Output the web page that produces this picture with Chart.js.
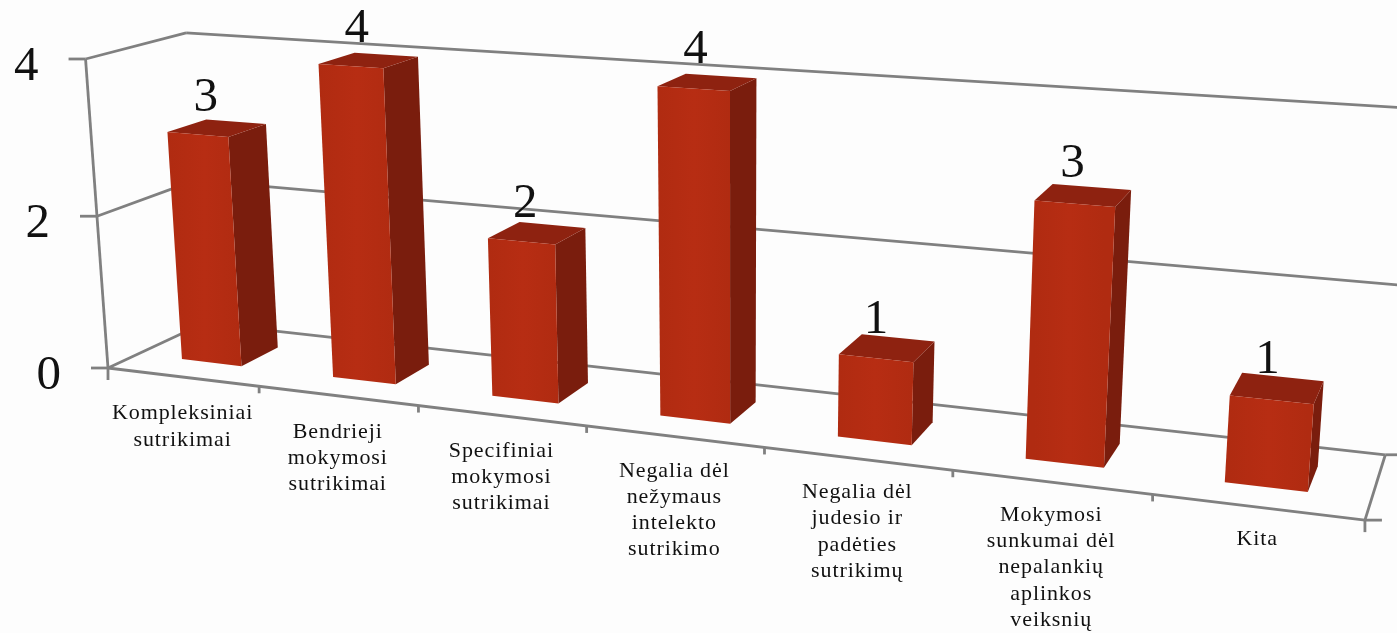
<!DOCTYPE html>
<html lang="lt">
<head>
<meta charset="utf-8">
<title>Sutrikimai</title>
<script src="https://cdn.jsdelivr.net/npm/chart.js@4/dist/chart.umd.min.js"></script>
<style>
    html, body { margin: 0; padding: 0; background: #fdfdfd; overflow: hidden; }
    canvas { display: block; }
</style>
</head>
<body>
<canvas id="barChart" width="1397" height="633"></canvas>
<script>
const categories = [
    ['Kompleksiniai', 'sutrikimai'],
    ['Bendrieji', 'mokymosi', 'sutrikimai'],
    ['Specifiniai', 'mokymosi', 'sutrikimai'],
    ['Negalia dėl', 'nežymaus', 'intelekto', 'sutrikimo'],
    ['Negalia dėl', 'judesio ir', 'padėties', 'sutrikimų'],
    ['Mokymosi', 'sunkumai dėl', 'nepalankių', 'aplinkos', 'veiksnių'],
    ['Kita']
];
const values = [3, 4, 2, 4, 1, 3, 1];
const yTicks = [0, 2, 4];

const LINE_COLOR = '#808080';
const LABEL_FONT = '"Liberation Serif", serif';

// Perspective camera: vanishing points of the three box directions, each with its weight
const VP_X = [-5618, -325], WEIGHT_X = -0.18;
const VP_Y = [735, 9000], WEIGHT_Y = -0.03456;
const VP_Z = [1635, -345], WEIGHT_Z = 0.067;
const ORIGIN = [108, 368];

// u along the categories, v up the value axis, d into the depth, all 0..1
function project(u, v, d) {
    const w = 1 + WEIGHT_X * u + WEIGHT_Y * v + WEIGHT_Z * d;
    const x = ORIGIN[0] + WEIGHT_X * u * VP_X[0] + WEIGHT_Y * v * VP_Y[0] + WEIGHT_Z * d * VP_Z[0];
    const y = ORIGIN[1] + WEIGHT_X * u * VP_X[1] + WEIGHT_Y * v * VP_Y[1] + WEIGHT_Z * d * VP_Z[1];
    return [x / w, y / w];
}

function line(ctx, a, b) {
    ctx.beginPath();
    ctx.moveTo(a[0], a[1]);
    ctx.lineTo(b[0], b[1]);
    ctx.stroke();
}

function face(ctx, points, fill) {
    ctx.beginPath();
    points.forEach((p, i) => i ? ctx.lineTo(p[0], p[1]) : ctx.moveTo(p[0], p[1]));
    ctx.closePath();
    ctx.fillStyle = fill;
    ctx.fill();
}

// Chart.js pixels to 0..1 box coordinates
function toU(chart, px) {
    return (px - chart.chartArea.left) / chart.chartArea.width;
}
function toV(chart, py) {
    return (chart.chartArea.bottom - py) / chart.chartArea.height;
}

const box3d = {
    id: 'box3d',
    beforeDatasetsDraw(chart) {
        const ctx = chart.ctx;
        const yScale = chart.scales.y;
        ctx.save();
        ctx.strokeStyle = LINE_COLOR;
        ctx.lineWidth = 2.8;

        // walls: one line per tick on the left side and on the back
        yTicks.forEach(tick => {
            const v = toV(chart, yScale.getPixelForValue(tick));
            line(ctx, project(0, v, 0), project(0, v, 1));
            line(ctx, project(0, v, 1), project(1, v, 1));
            const start = project(0, v, 0);
            line(ctx, [start[0] - 17, start[1]], start);
        });
        line(ctx, project(0, 0, 0), project(0, 1, 0));

        // floor
        line(ctx, project(0, 0, 0), project(1, 0, 0));
        line(ctx, project(1, 0, 0), project(1, 0, 1));
        const corner = project(1, 0, 1);
        line(ctx, corner, [chart.width, corner[1]]);
        const end = project(1, 0, 0);
        line(ctx, end, [end[0] + 17, end[1]]);

        // category ticks under the floor edge
        for (let i = 0; i <= categories.length; i++) {
            const p = project(i / categories.length, 0, 0);
            line(ctx, p, [p[0], p[1] + (i === 0 || i === categories.length ? 12 : 7)]);
        }
        ctx.restore();
    },
    beforeDatasetDraw(chart, args) {
        const ctx = chart.ctx;
        const meta = chart.getDatasetMeta(args.index);
        meta.data.forEach(bar => {
            const u0 = toU(chart, bar.x - bar.width / 2);
            const u1 = toU(chart, bar.x + bar.width / 2);
            const top = toV(chart, bar.y);
            const d0 = 0.3, d1 = 0.7;

            face(ctx, [project(u1, 0, d0), project(u1, top, d0), project(u1, top, d1), project(u1, 0, d1)], '#7a1d0d');
            face(ctx, [project(u0, top, d0), project(u1, top, d0), project(u1, top, d1), project(u0, top, d1)], '#8e2210');

            const a = project(u0, top, d0), b = project(u1, 0, d0);
            const shade = ctx.createLinearGradient(a[0], 0, b[0], 0);
            shade.addColorStop(0, '#b02b11');
            shade.addColorStop(0.5, '#b72d13');
            shade.addColorStop(1, '#b02b11');
            face(ctx, [project(u0, 0, d0), project(u0, top, d0), project(u1, top, d0), project(u1, 0, d0)], shade);
        });
        return false;
    },
    afterDatasetsDraw(chart) {
        const ctx = chart.ctx;
        const yScale = chart.scales.y;
        const xScale = chart.scales.x;
        const bars = chart.getDatasetMeta(0).data;
        ctx.save();
        ctx.fillStyle = '#111111';

        // value axis numbers
        ctx.font = '49px ' + LABEL_FONT;
        ctx.textAlign = 'right';
        ctx.textBaseline = 'middle';
        yTicks.forEach(tick => {
            const p = project(0, toV(chart, yScale.getPixelForValue(tick)), 0);
            ctx.fillText(String(tick), p[0] - 47, p[1] + 8);
        });

        // numbers above the bars
        ctx.textAlign = 'center';
        bars.forEach((bar, i) => {
            const u = toU(chart, bar.x);
            const p = project(u, toV(chart, bar.y), 0.3);
            ctx.fillText(String(values[i]), p[0] + 9 - 14 * u, p[1] - 36 - 4 * u);
        });

        // category names below the floor edge
        ctx.font = '22px ' + LABEL_FONT;
        ctx.letterSpacing = '0.9px';
        categories.forEach((lines, i) => {
            const u = toU(chart, xScale.getPixelForValue(i));
            const p = project(u, 0, 0);
            lines.forEach((text, n) => {
                ctx.fillText(text, p[0], p[1] + 37 - 5 * u + n * 26.2);
            });
        });
        ctx.restore();
    }
};

new Chart(document.getElementById('barChart').getContext('2d'), {
    type: 'bar',
    data: {
        labels: categories,
        datasets: [{
            label: 'Sutrikimai',
            data: values,
            backgroundColor: '#b82e13',
            categoryPercentage: 1,
            barPercentage: 0.4
        }]
    },
    options: {
        responsive: false,
        animation: false,
        scales: {
            x: { display: false },
            y: { display: false, min: 0, max: 4 }
        },
        plugins: {
            legend: { display: false },
            tooltip: { enabled: false }
        }
    },
    plugins: [box3d]
});
</script>
</body>
</html>
